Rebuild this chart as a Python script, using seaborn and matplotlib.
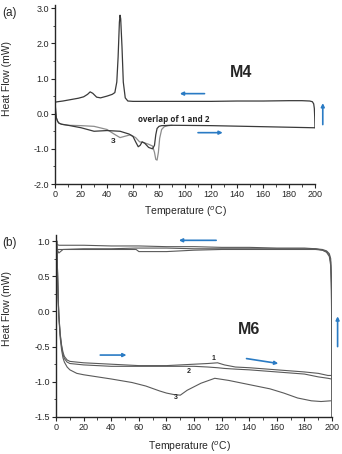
import numpy as np
import pandas as pd
import matplotlib
matplotlib.use("Agg")
import matplotlib.pyplot as plt
import seaborn as sns

# --- data ---
# (a) M4: cooling trace (200 -> 0 C)
a_cool_t = [200, 199.8, 199.5, 199, 198, 196, 190, 180, 160, 140, 120, 100, 80, 60, 56, 54, 52.5,
            51.5, 50.5, 50, 49.5, 48.5, 47.5, 46, 44, 40, 35, 32, 29, 27, 25, 22, 18, 12, 6, 2, 0.5, 0]
a_cool_hf = [-0.40, -0.10, 0.15, 0.28, 0.34, 0.36, 0.37, 0.37, 0.36, 0.36, 0.35, 0.35, 0.35, 0.35,
             0.36, 0.45, 0.90, 1.90, 2.70, 2.80, 2.60, 1.60, 0.90, 0.60, 0.55, 0.50, 0.45, 0.47,
             0.58, 0.62, 0.55, 0.48, 0.44, 0.40, 0.36, 0.34, 0.33, 0.33]
# (a) heating runs 1 and 2 (overlapping)
a_heat12_t = [0, 0.5, 1, 2, 3, 5, 10, 20, 30, 40, 50, 57, 60, 62, 64, 65.5, 67, 69, 72, 75, 76.5,
              77.5, 78.5, 80, 82, 90, 120, 160, 199, 200]
a_heat12_hf = [0.33, 0.05, -0.12, -0.22, -0.27, -0.30, -0.33, -0.40, -0.50, -0.48, -0.50, -0.58,
               -0.65, -0.80, -0.94, -0.90, -0.80, -0.84, -0.96, -1.00, -0.90, -0.60, -0.42, -0.36,
               -0.34, -0.33, -0.34, -0.37, -0.40, -0.40]
# (a) heating run 3
a_heat3_t = [0, 0.5, 1, 2, 3, 5, 10, 20, 30, 40, 45, 50, 54, 58, 62, 65, 68, 72, 75, 76.5, 77.5,
             78.5, 79.5, 80.5, 82, 84, 87, 90]
a_heat3_hf = [0.33, 0.05, -0.12, -0.22, -0.27, -0.30, -0.33, -0.34, -0.36, -0.45, -0.57, -0.68,
              -0.64, -0.60, -0.68, -0.80, -0.82, -0.87, -0.92, -1.10, -1.30, -1.32, -1.10, -0.70,
              -0.45, -0.37, -0.34, -0.33]

# (b) M6: heating runs 1, 2, 3
b_heat_t = [0.5, 1, 1.5, 2, 3, 4, 5, 6, 8, 10, 20, 40, 60, 80, 100, 110, 117, 122, 130, 140, 160,
            180, 190, 197, 199.5]
b_heat1_hf = [1.00, 0.60, 0.20, -0.05, -0.32, -0.48, -0.58, -0.64, -0.69, -0.71, -0.73, -0.75,
              -0.77, -0.77, -0.75, -0.74, -0.73, -0.76, -0.79, -0.80, -0.83, -0.86, -0.88, -0.91, -0.91]
b_heat2_hf = [1.00, 0.60, 0.20, -0.06, -0.34, -0.50, -0.61, -0.67, -0.72, -0.74, -0.76, -0.78,
              -0.78, -0.78, -0.78, -0.79, -0.80, -0.81, -0.82, -0.83, -0.86, -0.89, -0.93, -0.95, -0.96]
b_heat3_t = [0.5, 1, 1.5, 2, 3, 4, 5, 6, 8, 10, 15, 20, 30, 40, 55, 65, 75, 80, 85, 90, 95, 105,
             115, 125, 140, 155, 165, 175, 185, 192, 199]
b_heat3_hf = [1.00, 0.60, 0.20, -0.08, -0.38, -0.55, -0.66, -0.72, -0.79, -0.83, -0.88, -0.90,
              -0.93, -0.96, -1.01, -1.06, -1.13, -1.16, -1.18, -1.19, -1.12, -1.02, -0.95, -0.98,
              -1.04, -1.10, -1.16, -1.23, -1.27, -1.28, -1.27]
# (b) cooling runs 1, 2, 3 (200 -> 0 C)
b_cool_t = [200, 199.8, 199.5, 199, 198, 196, 193, 188, 180, 160, 140, 120, 100, 80, 60, 58, 40,
            20, 5, 2, 1]
b_cool1_hf = [-1.50, -0.50, 0.30, 0.65, 0.78, 0.84, 0.87, 0.89, 0.90, 0.90, 0.91, 0.91, 0.92,
              0.92, 0.93, 0.93, 0.93, 0.94, 0.94, 0.94, 0.95]
b_cool2_hf = [-1.50, -0.30, 0.50, 0.75, 0.82, 0.86, 0.88, 0.89, 0.89, 0.89, 0.89, 0.89, 0.89,
              0.90, 0.90, 0.90, 0.89, 0.89, 0.88, 0.88, 0.88]
b_cool3_hf = [-1.50, -0.40, 0.40, 0.70, 0.80, 0.85, 0.87, 0.88, 0.88, 0.88, 0.88, 0.88, 0.87,
              0.85, 0.85, 0.88, 0.88, 0.88, 0.88, 0.83, 0.87]

sns.set_style("ticks")
plt.rcParams["font.family"] = ["Liberation Sans", "DejaVu Sans"]
plt.rcParams["axes.unicode_minus"] = False

fig = plt.figure(figsize=(3.42, 4.54), dpi=100)
arrow_color = "#2a7bc4"


def style_axis(ax, yticks, yminor):
    sns.despine(ax=ax)
    ax.set_xlim(0, 200)
    ax.set_xticks(range(0, 201, 20))
    ax.set_xticks(range(0, 201, 10), minor=True)
    ax.set_yticks(yticks)
    ax.set_yticks(yminor, minor=True)
    ax.set_yticklabels([f"{v:.1f}" for v in yticks])
    ax.tick_params(which="major", direction="out", length=3, width=0.8, labelsize=6.5, pad=1.5)
    ax.tick_params(which="minor", direction="out", length=1.8, width=0.6)
    for s in ("left", "bottom"):
        ax.spines[s].set_linewidth(1.0)
    ax.set_xlabel("Temperature ($^{o}$C)", fontsize=7.5)
    ax.set_ylabel("Heat Flow (mW)", fontsize=7.5)


def arrow(ax, x0, y0, x1, y1):
    ax.annotate("", xy=(x1, y1), xytext=(x0, y0), annotation_clip=False,
                arrowprops=dict(arrowstyle="-|>", color=arrow_color, lw=1.2,
                                mutation_scale=5, shrinkA=0, shrinkB=0))


# --- (a) M4 ---
ax1 = fig.add_axes([0.161, 0.5947, 0.76, 0.395])
sns.lineplot(x=a_heat3_t, y=a_heat3_hf, sort=False, estimator=None, color="#8c8c8c", lw=0.9, ax=ax1)
sns.lineplot(x=a_heat12_t, y=a_heat12_hf, sort=False, estimator=None, color="#3a3a3a", lw=0.9, ax=ax1)
sns.lineplot(x=a_cool_t, y=a_cool_hf, sort=False, estimator=None, color="#3a3a3a", lw=0.9, ax=ax1)
ax1.set_ylim(-2, 3.1)
style_axis(ax1, np.arange(-2, 3.01, 1.0), np.arange(-2, 3.01, 0.5))
ax1.xaxis.set_label_coords(0.5, -0.115)
ax1.yaxis.set_label_coords(-0.165, 0.59)
ax1.text(143, 1.16, "M4", fontsize=11.5, fontweight="bold", ha="center", va="center")
ax1.text(64, -0.17, "overlap of 1 and 2", fontsize=5.8, fontweight="bold", ha="left", va="center",
         family=["Open Sans", "DejaVu Sans"])
ax1.text(45, -0.8, "3", fontsize=6, fontweight="bold", ha="center", va="center")
arrow(ax1, 115, 0.57, 96, 0.57)
arrow(ax1, 110, -0.54, 129, -0.54)
arrow(ax1, 206, -0.31, 206, 0.30)

# --- (b) M6 ---
ax2 = fig.add_axes([0.164, 0.0815, 0.807, 0.40])
for hf in (b_cool1_hf, b_cool2_hf, b_cool3_hf):
    sns.lineplot(x=b_cool_t, y=hf, sort=False, estimator=None, color="#5a5a5a", lw=0.8, ax=ax2)
sns.lineplot(x=b_heat_t, y=b_heat1_hf, sort=False, estimator=None, color="#5a5a5a", lw=0.8, ax=ax2)
sns.lineplot(x=b_heat_t, y=b_heat2_hf, sort=False, estimator=None, color="#5a5a5a", lw=0.8, ax=ax2)
sns.lineplot(x=b_heat3_t, y=b_heat3_hf, sort=False, estimator=None, color="#5a5a5a", lw=0.8, ax=ax2)
ax2.set_ylim(-1.5, 1.08)
style_axis(ax2, np.arange(-1.5, 1.01, 0.5), np.arange(-1.5, 1.01, 0.25))
ax2.xaxis.set_label_coords(0.485, -0.125)
ax2.yaxis.set_label_coords(-0.16, 0.6)
ax2.text(140, -0.26, "M6", fontsize=11.5, fontweight="bold", ha="center", va="center")
ax2.text(114, -0.67, "1", fontsize=5, fontweight="bold", ha="center", va="center")
ax2.text(96, -0.85, "2", fontsize=5, fontweight="bold", ha="center", va="center")
ax2.text(87, -1.22, "3", fontsize=5, fontweight="bold", ha="center", va="center")
arrow(ax2, 116, 1.01, 89, 1.01)
arrow(ax2, 32, -0.62, 51, -0.62)
arrow(ax2, 138, -0.67, 161, -0.74)
arrow(ax2, 204, -0.5, 204, -0.07)

fig.text(0.008, 0.985, "(a)", fontsize=8.5, va="top", ha="left")
fig.text(0.008, 0.478, "(b)", fontsize=8.5, va="top", ha="left")

fig.savefig("out.png", dpi=100)
